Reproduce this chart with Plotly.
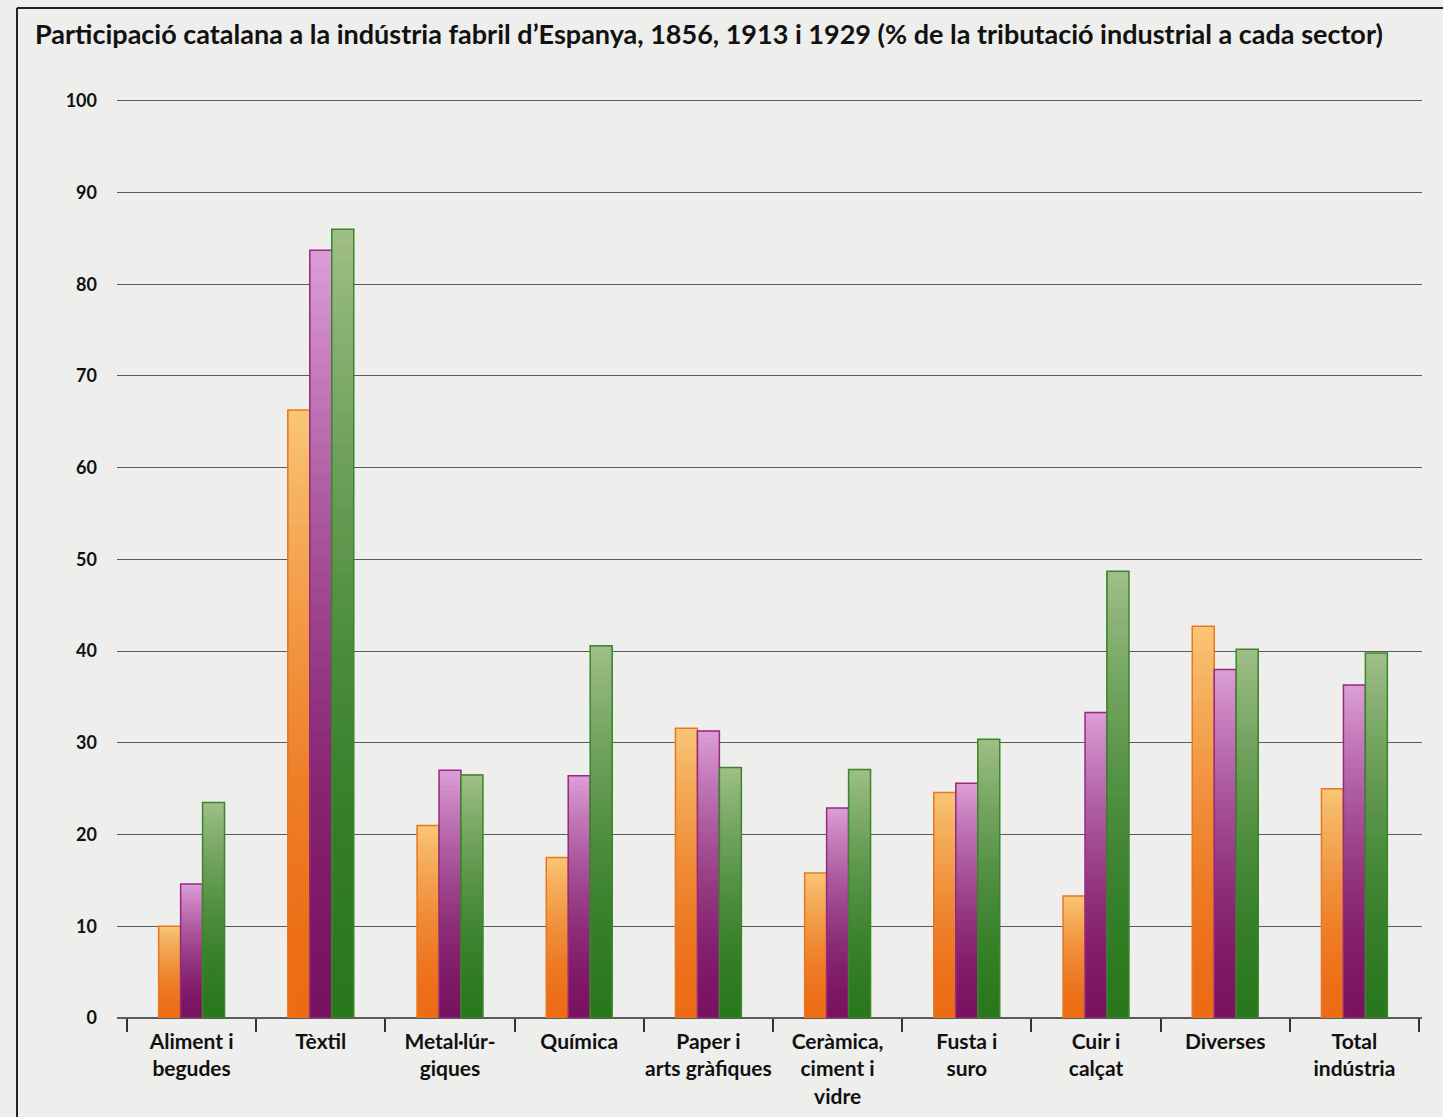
import plotly.graph_objects as go

# Sectors and Catalan share of industrial tax revenue (%)
categories = [
    "Aliment i<br>begudes", "Tèxtil", "Metal·lúr-<br>giques", "Química",
    "Paper i<br>arts gràfiques", "Ceràmica,<br>ciment i<br>vidre", "Fusta i<br>suro",
    "Cuir i<br>calçat", "Diverses", "Total<br>indústria",
]
years = ["1856", "1913", "1929"]
share_1856 = [10.0, 66.3, 21.0, 17.5, 31.6, 15.8, 24.6, 13.3, 42.7, 25.0]
share_1913 = [14.6, 83.7, 27.0, 26.4, 31.3, 22.9, 25.6, 33.3, 38.0, 36.3]
share_1929 = [23.5, 86.0, 26.5, 40.6, 27.3, 27.1, 30.4, 48.7, 40.2, 39.8]
y_ticks = [0, 10, 20, 30, 40, 50, 60, 70, 80, 90, 100]

series = [share_1856, share_1913, share_1929]
# (bottom colour, top colour, outline colour) for the vertical gradient of each series
palette = [
    ((236, 108, 20), (248, 200, 120), "#e9771f"),
    ((122, 18, 98), (222, 160, 218), "#962a80"),
    ((42, 120, 30), (162, 192, 138), "#3a862a"),
]

W, H = 1443, 1117
L, R, T, B = 117, 21, 99, 99
Y_TOP = 100.2
plot_w, plot_h = W - L - R, H - T - B

FONT = "Lato, Open Sans, Liberation Sans, sans-serif"


def px_x(x):
    return (x - L) / plot_w


def px_y(y):
    return (H - B - y) / plot_h


def mix(c0, c1, f):
    return "rgb(%d,%d,%d)" % tuple(round(a + (b - a) * f) for a, b in zip(c0, c1))


def bold(size):
    return dict(size=size, family=FONT, weight="bold", color="#111")


fig = go.Figure()
steps = 48
for k, (vals, (c_bot, c_top, c_line)) in enumerate(zip(series, palette)):
    # gradient: each slice runs from its base to the top of the bar, painted bottom-up
    for i in range(steps):
        f = i / steps
        fig.add_trace(go.Bar(
            x=categories,
            y=[v * (1 - f) for v in vals],
            base=[v * f for v in vals],
            offsetgroup=str(k),
            marker=dict(color=mix(c_bot, c_top, f ** 1.6), line=dict(width=0)),
            showlegend=False,
            hoverinfo="skip",
        ))
    fig.add_trace(go.Bar(
        x=categories,
        y=vals,
        offsetgroup=str(k),
        name=years[k],
        marker=dict(color="rgba(0,0,0,0)", line=dict(color=c_line, width=1.5)),
        showlegend=False,
        hovertemplate="%{x}<br>" + years[k] + ": %{y}%<extra></extra>",
    ))

bg = "#eeeeec"
fig.update_layout(
    width=W, height=H,
    margin=dict(l=L, r=R, t=T, b=B, autoexpand=False),
    paper_bgcolor=bg, plot_bgcolor=bg,
    barmode="group", bargap=0.49, bargroupgap=0,
    font=dict(family=FONT, color="#111"),
    xaxis=dict(
        type="category",
        range=[-0.5 - 10 / 129.2, 9.5 + 3 / 129.2],
        tickson="boundaries", ticks="outside", ticklen=13, tickwidth=1.6, tickcolor="#333",
        tickangle=0, ticklabelstandoff=9,
        showgrid=False, showline=False, zeroline=False,
        tickfont=bold(21),
        fixedrange=True,
    ),
    yaxis=dict(
        range=[0, Y_TOP], tickvals=y_ticks,
        showgrid=True, gridcolor="#5a5a5a", gridwidth=1.3,
        zeroline=True, zerolinecolor="#5a5a5a", zerolinewidth=1.5,
        ticks="", ticklabelstandoff=19,
        tickfont=bold(18),
        fixedrange=True,
    ),
    annotations=[dict(
        text="Participació catalana a la indústria fabril d’Espanya, 1856, 1913 i 1929 "
             "(% de la tributació industrial a cada sector)",
        xref="paper", yref="paper", x=px_x(33), y=px_y(33),
        xanchor="left", yanchor="middle", showarrow=False,
        font=bold(27),
    )],
    shapes=[
        dict(type="line", xref="paper", yref="paper", x0=px_x(17), x1=px_x(17),
             y0=px_y(8), y1=px_y(H + 5), line=dict(color="#222", width=2)),
        dict(type="line", xref="paper", yref="paper", x0=px_x(17), x1=px_x(W + 5),
             y0=px_y(8), y1=px_y(8), line=dict(color="#222", width=2)),
    ],
)

fig.write_html("out.html", config={"displayModeBar": False})
